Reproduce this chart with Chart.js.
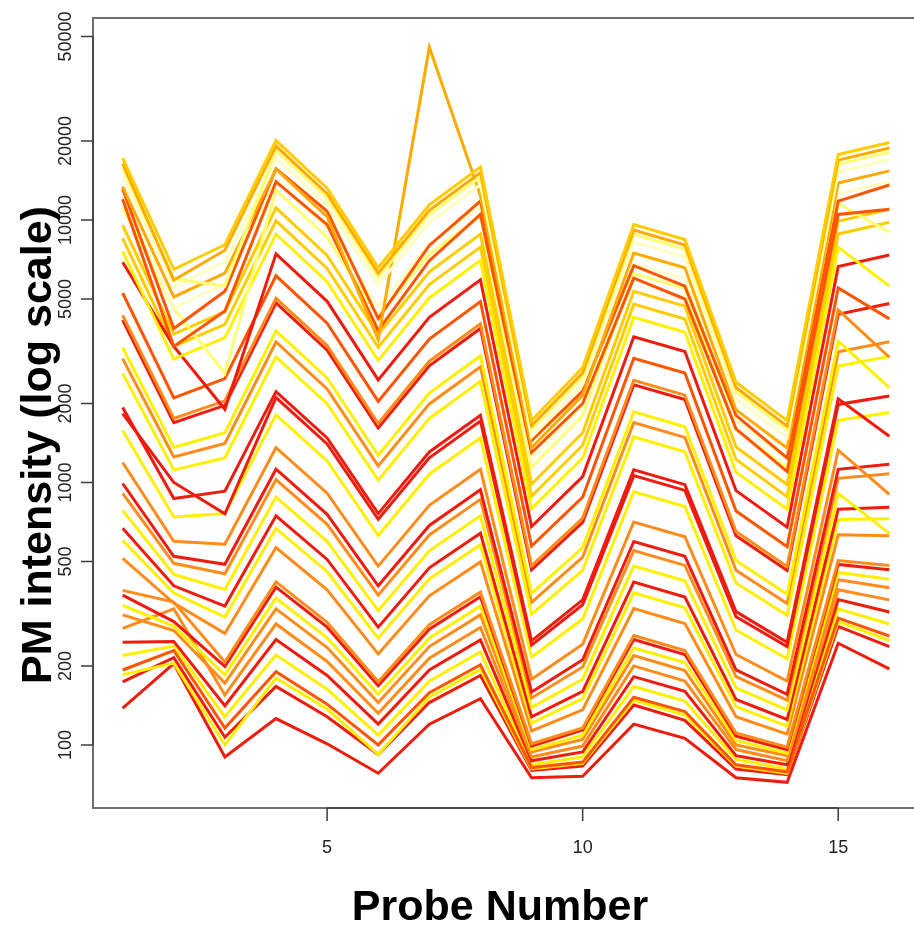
<!DOCTYPE html>
<html>
<head>
<meta charset="utf-8">
<script src="https://cdn.jsdelivr.net/npm/chart.js@4.4.1/dist/chart.umd.min.js"></script>
<style>
  html, body { margin: 0; padding: 0; background: #fff; overflow: hidden; }
  canvas { display: block; }
</style>
</head>
<body>
<canvas id="pmChart" width="925" height="925"></canvas>
<script>
// probe positions and axis ticks
var probes = [1, 2, 3, 4, 5, 6, 7, 8, 9, 10, 11, 12, 13, 14, 15, 16];
var xTicks = [5, 10, 15];
var yTicks = [100, 200, 500, 1000, 2000, 5000, 10000, 20000, 50000];

// PM intensities, one array per chip
var s01 = [17200, 6490, 8050, 20080, 13210, 6580, 11420, 15900, 1720, 2740, 9600, 8430, 2410, 1720, 17750, 19750];
var s02 = [16390, 5900, 7670, 19130, 12590, 6270, 10880, 15150, 1645, 2615, 9150, 8030, 2300, 1640, 16910, 18820];
var s03 = [15790, 5975, 5600, 18430, 12130, 6050, 10480, 14590, 1587, 2520, 8820, 7740, 2220, 1584, 16300, 18135];
var s04 = [14760, 5600, 6915, 17230, 11340, 5655, 9800, 13650, 1488, 2360, 8250, 7240, 2078, 1485, 15250, 16960];
var s05 = [13395, 5090, 6277, 15630, 10290, 3500, 45500, 12385, 1356, 2147, 7487, 6573, 1890, 1353, 13845, 15390];
var s06 = [13120, 3860, 5350, 15700, 10800, 4210, 8000, 11800, 1445, 2230, 6700, 5600, 1800, 1240, 11800, 13600];
var s07 = [12000, 3300, 4500, 14000, 9600, 3800, 7000, 10500, 1300, 2000, 6000, 5000, 1600, 1100, 10500, 11000];
var s08 = [12160, 4640, 5700, 14190, 9340, 4664, 8080, 11250, 1237, 1955, 6800, 5970, 1722, 1234, 12580, 13980];
var s09 = [11170, 4600, 2600, 13030, 8580, 4285, 7425, 10330, 1141, 1800, 6250, 5490, 1586, 1138, 11560, 9000];
var s10 = [9550, 3675, 4480, 11130, 7330, 3666, 6350, 8834, 985, 1547, 5350, 4696, 1364, 982, 9900, 10980];
var s11 = [7580, 2950, 3563, 8830, 5820, 2916, 5048, 7019, 795, 1239, 4257, 3737, 1095, 792, 7880, 5600];
var s12 = [6900, 3300, 1900, 7430, 4900, 2460, 4256, 5915, 679, 1053, 3592, 3153, 931, 676, 6653, 7355];
var s13 = [5272, 2100, 2486, 6130, 4046, 2036, 3520, 4889, 572, 879, 2974, 2611, 779, 569, 5513, 4200];
var s14 = [4332, 1754, 2047, 5030, 3323, 1677, 2897, 4021, 481, 732, 2452, 2152, 650, 478, 4548, 3000];
var s15 = [4160, 1690, 1967, 4830, 3192, 1612, 2784, 3863, 465, 705, 2357, 2069, 627, 462, 4373, 4807];
var s16 = [3263, 1360, 1548, 3780, 2502, 1270, 2190, 3035, 378, 565, 1858, 1631, 504, 375, 3452, 2300];
var s17 = [2604, 1117, 1241, 3010, 1996, 1019, 1754, 2427, 315, 462, 1492, 1310, 414, 312, 2777, 3023];
var s18 = [1929, 868, 926, 2220, 1477, 761, 1307, 1804, 249, 357, 1117, 981, 322, 246, 2084, 1500];
var s19 = [1831, 1000, 760, 2105, 1402, 724, 1242, 1713, 240, 342, 1062, 933, 308, 237, 1983, 2137];
var s20 = [1578, 739, 762, 1810, 1208, 628, 1075, 1481, 216, 302, 922, 810, 274, 213, 1724, 1847];
var s21 = [1191, 597, 582, 1357, 910, 480, 818, 1123, 178, 242, 707, 621, 221, 175, 1327, 900];
var s22 = [991, 523, 488, 1123, 756, 404, 686, 938, 159, 211, 596, 523, 193, 156, 1122, 1174];
var s23 = [908, 492, 449, 1026, 693, 372, 631, 862, 151, 198, 550, 483, 182, 148, 1037, 1079];
var s24 = [783, 446, 391, 880, 597, 325, 549, 747, 139, 178, 480, 422, 165, 136, 909, 640];
var s25 = [669, 404, 338, 746, 509, 281, 473, 641, 128, 160, 417, 366, 149, 125, 791, 805];
var s26 = [602, 379, 307, 668, 457, 255, 429, 579, 121, 150, 380, 333, 140, 118, 723, 728];
var s27 = [514, 347, 266, 565, 390, 222, 370, 498, 113, 136, 331, 290, 128, 110, 632, 627];
var s28 = [388, 350, 207, 418, 293, 174, 287, 382, 101, 116, 261, 229, 111, 98, 504, 483];
var s29 = [372, 295, 199, 399, 281, 168, 276, 367, 99, 114, 252, 221, 108, 96, 487, 465];
var s30 = [340, 283, 185, 362, 256, 156, 255, 338, 96, 109, 234, 206, 104, 93, 454, 428];
var s31 = [278, 330, 155, 289, 208, 132, 214, 280, 90, 99, 200, 175, 96, 87, 390, 357];
var s32 = [246, 248, 141, 252, 184, 120, 193, 251, 87, 94, 182, 160, 91, 84, 358, 321];
var s33 = [193, 229, 116, 190, 143, 100, 158, 202, 82, 86, 152, 134, 84, 79, 304, 260];
var s34 = [185, 205, 100, 180, 137, 92, 152, 194, 81, 85, 148, 130, 83, 78, 295, 250];
var s35 = [174, 215, 107, 167, 128, 92, 145, 184, 80, 83, 142, 124, 81, 77, 283, 237];
var s36 = [138, 204, 90, 126, 101, 78, 120, 150, 75, 76, 120, 106, 75, 72, 244, 195];
var s37 = [219, 238, 128, 220, 163, 109, 175, 226, 84, 90, 167, 147, 88, 81, 330, 289];
var s38 = [313, 273, 172, 330, 235, 145, 237, 313, 94, 105, 219, 192, 100, 91, 426, 397];
var s39 = [8520, 3297, 4002, 9930, 6543, 3275, 5671, 7887, 886, 1386, 4779, 4196, 1224, 883, 8846, 9805];
var s40 = [2964, 1250, 1409, 3430, 2272, 1156, 1992, 2759, 349, 519, 1692, 1485, 463, 346, 3145, 3435];

var allSeries = [s01, s02, s03, s04, s05, s06, s07, s08, s09, s10,
                 s11, s12, s13, s14, s15, s16, s17, s18, s19, s20,
                 s21, s22, s23, s24, s25, s26, s27, s28, s29, s30,
                 s31, s32, s33, s34, s35, s36, s37, s38, s39, s40];

// heat colours
var RED = '#ee1c0e', ORED = '#ff5500', ORNG = '#ff8c1a', AMBR = '#ffaa00',
    GOLD = '#ffcc00', YELL = '#fff000', LYEL = '#ffff73', CREM = '#ffffc4';

var lineColors = [GOLD, AMBR, LYEL, CREM, AMBR, ORED, ORED, CREM, LYEL, GOLD,
                  YELL, RED, ORED, ORNG, RED, YELL, YELL, RED, RED, YELL,
                  ORNG, RED, ORNG, YELL, RED, YELL, ORNG, ORNG, RED, YELL,
                  ORNG, RED, ORED, YELL, RED, RED, YELL, ORNG, GOLD, ORNG];

var datasets = allSeries.map(function (vals, i) {
    return {
        data: probes.map(function (p, j) { return {x: p, y: vals[j]}; }),
        borderColor: lineColors[i],
        borderWidth: 3,
        pointRadius: 0,
        tension: 0,
        fill: false
    };
});

// base-graphics style frame, ticks and titles
var frame = {
    id: 'frame',
    afterDraw: function (chart) {
        var ctx = chart.ctx, a = chart.chartArea;
        var xs = chart.scales.x, ys = chart.scales.y;
        ctx.save();

        ctx.strokeStyle = '#6e6e6e';
        ctx.lineWidth = 2;
        ctx.strokeRect(a.left + 1, a.top, a.right - a.left, a.bottom - a.top);

        ctx.strokeStyle = '#3c3c3c';
        ctx.lineWidth = 1.5;
        ctx.fillStyle = '#222';
        ctx.font = '18px "Liberation Sans", Arial, sans-serif';

        // x axis
        var x0 = xs.getPixelForValue(xTicks[0]);
        var x1 = xs.getPixelForValue(xTicks[xTicks.length - 1]);
        ctx.beginPath();
        ctx.moveTo(x0, a.bottom);
        ctx.lineTo(x1, a.bottom);
        xTicks.forEach(function (t) {
            var px = xs.getPixelForValue(t);
            ctx.moveTo(px, a.bottom);
            ctx.lineTo(px, a.bottom + 13);
        });
        ctx.stroke();
        ctx.textAlign = 'center';
        ctx.textBaseline = 'middle';
        xTicks.forEach(function (t) {
            ctx.fillText(String(t), xs.getPixelForValue(t), a.bottom + 40);
        });

        // y axis
        var yb = ys.getPixelForValue(yTicks[0]);
        var yt = ys.getPixelForValue(yTicks[yTicks.length - 1]);
        ctx.beginPath();
        ctx.moveTo(a.left + 1, yb);
        ctx.lineTo(a.left + 1, yt);
        yTicks.forEach(function (t) {
            var py = ys.getPixelForValue(t);
            ctx.moveTo(a.left + 1, py);
            ctx.lineTo(a.left - 11, py);
        });
        ctx.stroke();
        yTicks.forEach(function (t) {
            ctx.save();
            ctx.translate(a.left - 26, ys.getPixelForValue(t));
            ctx.rotate(-Math.PI / 2);
            ctx.fillText(String(t), 0, 0);
            ctx.restore();
        });

        // titles
        ctx.fillStyle = '#000';
        ctx.font = 'bold 43px "Liberation Sans", Arial, sans-serif';
        ctx.textBaseline = 'alphabetic';
        ctx.fillText('Probe Number', 500, 920);
        ctx.save();
        ctx.translate(51, 445);
        ctx.rotate(-Math.PI / 2);
        ctx.fillText('PM intensity (log scale)', 0, 0);
        ctx.restore();

        ctx.restore();
    }
};

var ctx = document.getElementById('pmChart').getContext('2d');
var pmChart = new Chart(ctx, {
    type: 'line',
    data: { datasets: datasets },
    options: {
        responsive: false,
        animation: false,
        devicePixelRatio: 1,
        layout: { padding: { left: 92, top: 18, right: 5, bottom: 117 } },
        plugins: { legend: { display: false }, tooltip: { enabled: false } },
        scales: {
            x: { type: 'linear', min: 0.4, max: 16.6, bounds: 'data', display: false },
            y: { type: 'logarithmic', min: 57.5, max: 58840, bounds: 'data', display: false }
        }
    },
    plugins: [frame]
});
</script>
</body>
</html>
